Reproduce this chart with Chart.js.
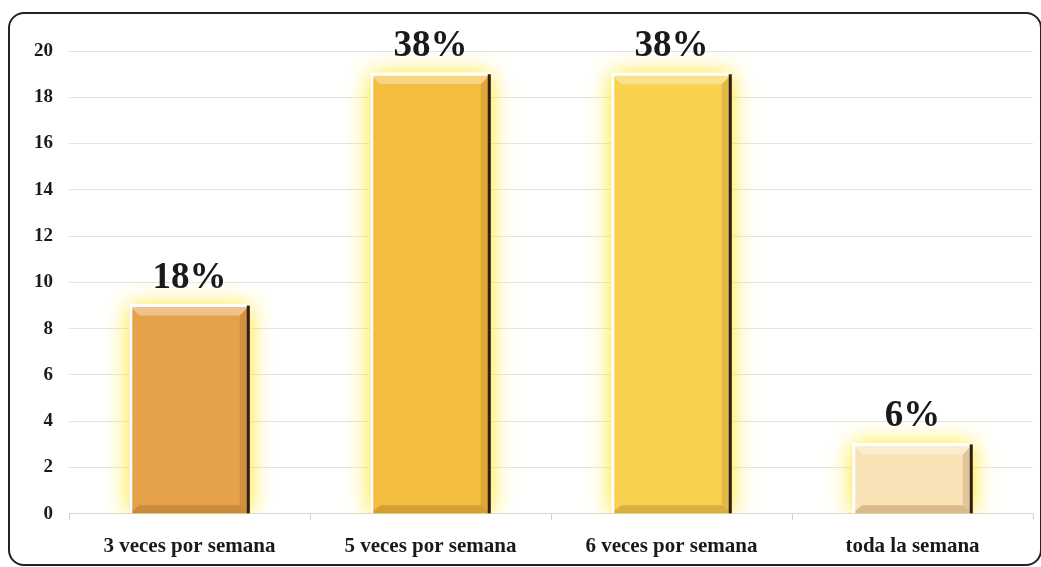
<!DOCTYPE html>
<html>
<head>
<meta charset="utf-8">
<script src="https://cdn.jsdelivr.net/npm/chart.js@4.4.1/dist/chart.umd.min.js"></script>
<style>
  html, body { margin: 0; padding: 0; background: #fff; }
  #wrap { position: relative; width: 1041px; height: 567px; }
  #frame {
    position: absolute; left: 8px; top: 12px; width: 1030px; height: 550px;
    border: 2px solid #222; border-radius: 16px; pointer-events: none;
  }
</style>
</head>
<body>
<div id="wrap">
  <canvas id="myChart" width="1041" height="567"></canvas>
  <div id="frame"></div>
</div>
<script>
const categories = ['3 veces por semana', '5 veces por semana', '6 veces por semana', 'toda la semana'];
const counts = [9, 19, 19, 3];
const percentLabels = ['18%', '38%', '38%', '6%'];
const barColors = ['#e6a24a', '#f4bd3e', '#f8d24f', '#f8e2b6'];
const yTicks = [0, 2, 4, 6, 8, 10, 12, 14, 16, 18, 20];

const serif = '"Liberation Serif", "DejaVu Serif", serif';

// yellow glow behind the bars
const glowPlugin = {
  id: 'glow',
  beforeDatasetsDraw(chart) {
    const ctx = chart.ctx;
    ctx.save();
    ctx.shadowColor = 'rgba(255, 230, 30, 1)';
    ctx.shadowBlur = 22;
  },
  afterDatasetsDraw(chart) {
    chart.ctx.restore();
  }
};

// bevel edges and percent labels
const bevelPlugin = {
  id: 'bevel',
  afterDatasetsDraw(chart) {
    const ctx = chart.ctx;
    const meta = chart.getDatasetMeta(0);
    meta.data.forEach((bar, i) => {
      const left = bar.x - bar.width / 2;
      const right = bar.x + bar.width / 2;
      const top = bar.y;
      const bottom = bar.base;
      ctx.save();
      // top highlight band
      ctx.fillStyle = 'rgba(255,255,255,0.35)';
      ctx.beginPath();
      ctx.moveTo(left, top);
      ctx.lineTo(right, top);
      ctx.lineTo(right - 10, top + 10);
      ctx.lineTo(left + 10, top + 10);
      ctx.closePath();
      ctx.fill();
      // bottom shade
      ctx.fillStyle = 'rgba(120,70,20,0.25)';
      ctx.beginPath();
      ctx.moveTo(left, bottom);
      ctx.lineTo(right, bottom);
      ctx.lineTo(right - 10, bottom - 8);
      ctx.lineTo(left + 10, bottom - 8);
      ctx.closePath();
      ctx.fill();
      // right shade band
      ctx.fillStyle = 'rgba(120,70,20,0.18)';
      ctx.beginPath();
      ctx.moveTo(right, top);
      ctx.lineTo(right, bottom);
      ctx.lineTo(right - 10, bottom - 8);
      ctx.lineTo(right - 10, top + 10);
      ctx.closePath();
      ctx.fill();
      // left white edge
      ctx.strokeStyle = '#ffffff';
      ctx.lineWidth = 3;
      ctx.beginPath();
      ctx.moveTo(left + 1.5, bottom);
      ctx.lineTo(left + 1.5, top);
      ctx.lineTo(right, top);
      ctx.stroke();
      // right dark edge
      ctx.strokeStyle = '#2e2018';
      ctx.lineWidth = 3;
      ctx.beginPath();
      ctx.moveTo(right - 1.5, top);
      ctx.lineTo(right - 1.5, bottom);
      ctx.stroke();
      // percent label
      ctx.fillStyle = '#1a1a1a';
      ctx.font = 'bold 37px ' + serif;
      ctx.textAlign = 'center';
      ctx.textBaseline = 'alphabetic';
      ctx.fillText(percentLabels[i], bar.x, top - 18);
      ctx.restore();
    });
  }
};

new Chart(document.getElementById('myChart'), {
  type: 'bar',
  data: {
    labels: categories,
    datasets: [{
      data: counts,
      backgroundColor: barColors,
      borderWidth: 0,
      categoryPercentage: 1,
      barPercentage: 0.5
    }]
  },
  options: {
    responsive: false,
    animation: false,
    layout: { padding: { left: 18, right: 8, top: 51, bottom: -6 } },
    plugins: { legend: { display: false }, tooltip: { enabled: false } },
    scales: {
      y: {
        min: 0,
        max: 20,
        afterBuildTicks(axis) { axis.ticks = yTicks.map(v => ({ value: v })); },
        ticks: {
          color: '#1a1a1a',
          font: { family: serif, size: 19, weight: 'bold' },
          padding: 16
        },
        grid: { color: '#e3e3e3', drawTicks: false },
        border: { display: false }
      },
      x: {
        ticks: {
          color: '#1a1a1a',
          font: { family: serif, size: 21, weight: 'bold' },
          padding: 14
        },
        grid: { drawOnChartArea: false, color: '#cfcfcf', tickLength: 6, offset: true },
        border: { color: '#d8d8d8' }
      }
    }
  },
  plugins: [glowPlugin, bevelPlugin]
});
</script>
</body>
</html>
